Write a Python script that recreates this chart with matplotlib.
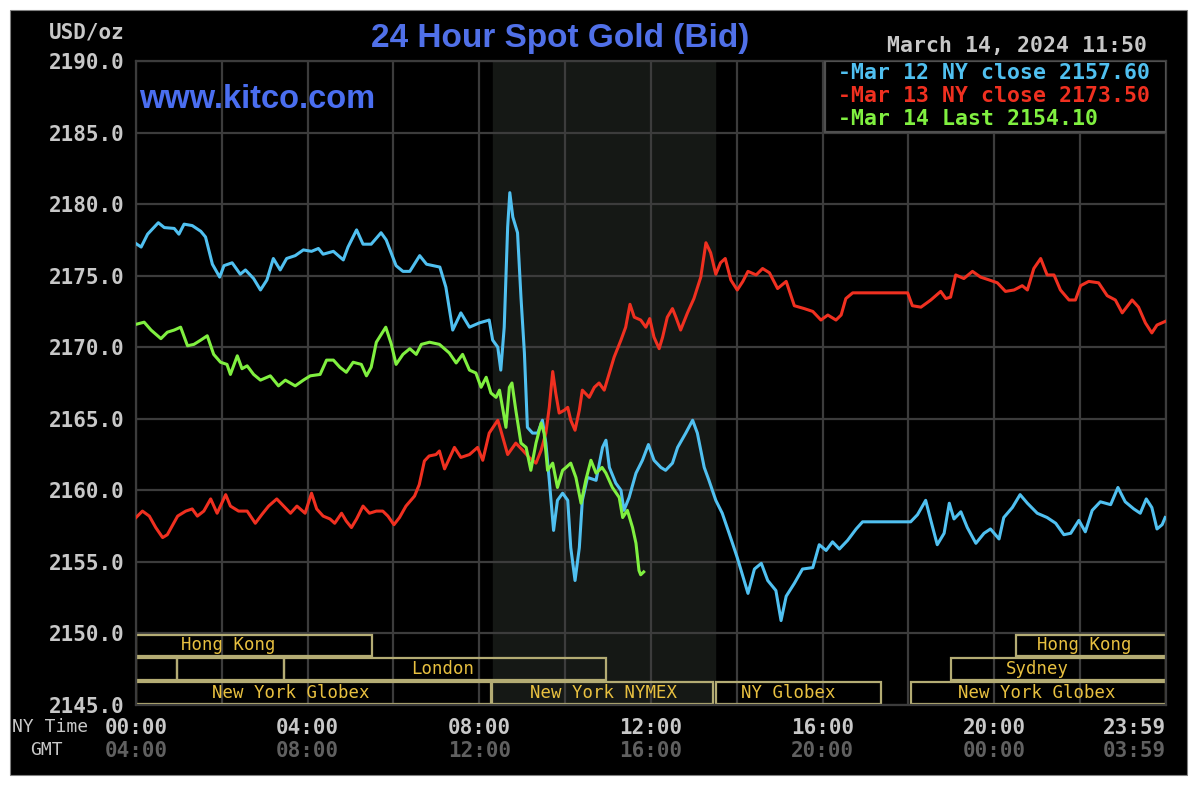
import numpy as np
import matplotlib.pyplot as plt
from matplotlib.patches import Rectangle

# время в часах по Нью-Йорку, цены в USD/oz
mar12_h = [0, 0.12, 0.27, 0.52, 0.66, 0.89, 1.0, 1.12, 1.31, 1.51, 1.62, 1.78, 1.95, 2.05, 2.24,
           2.43, 2.55, 2.74, 2.9, 3.05, 3.2, 3.36, 3.51, 3.71, 3.9, 4.09, 4.25, 4.36, 4.6, 4.83,
           4.94, 5.14, 5.29, 5.48, 5.71, 5.83, 6.06, 6.22, 6.38, 6.61, 6.77, 7.08, 7.22, 7.38,
           7.57, 7.77, 8.0, 8.23, 8.31, 8.43, 8.5, 8.58, 8.66, 8.71, 8.78, 8.89, 8.97, 9.05,
           9.12, 9.24, 9.36, 9.47, 9.55, 9.63, 9.73, 9.82, 9.94, 10.06, 10.13, 10.23, 10.33,
           10.4, 10.52, 10.72, 10.87, 10.95, 11.03, 11.18, 11.3, 11.37, 11.49, 11.65, 11.8,
           11.94, 12.07, 12.23, 12.34, 12.5, 12.62, 12.81, 12.97, 13.08, 13.24, 13.35, 13.51,
           13.66, 13.82, 14.01, 14.26, 14.41, 14.57, 14.72, 14.91, 15.03, 15.15, 15.34, 15.53,
           15.77, 15.92, 16.08, 16.23, 16.39, 16.58, 16.78, 16.93, 18.05, 18.21, 18.4, 18.52,
           18.67, 18.83, 18.95, 19.06, 19.22, 19.37, 19.57, 19.76, 19.91, 20.11, 20.22, 20.42,
           20.6, 20.77, 21.0, 21.23, 21.43, 21.62, 21.78, 21.97, 22.12, 22.28, 22.47, 22.71,
           22.88, 23.05, 23.25, 23.4, 23.54, 23.67, 23.79, 23.91, 23.98]
mar12_p = [2177.24, 2177.0, 2177.9, 2178.7, 2178.36, 2178.3, 2177.9, 2178.6, 2178.5, 2178.1,
           2177.7, 2175.8, 2174.9, 2175.7, 2175.9, 2175.1, 2175.4, 2174.8, 2174.0, 2174.7,
           2176.2, 2175.4, 2176.2, 2176.4, 2176.8, 2176.7, 2176.9, 2176.5, 2176.7, 2176.1,
           2177.0, 2178.2, 2177.2, 2177.2, 2178.0, 2177.5, 2175.7, 2175.3, 2175.3, 2176.4,
           2175.8, 2175.6, 2174.2, 2171.2, 2172.4, 2171.4, 2171.7, 2171.9, 2170.5, 2170.0,
           2168.4, 2171.4, 2178.4, 2180.8, 2179.1, 2178.0, 2173.5, 2169.6, 2164.4, 2164.0,
           2164.0, 2164.9, 2163.3, 2160.7, 2157.2, 2159.3, 2159.8, 2159.3, 2156.0, 2153.7,
           2156.0, 2159.3, 2160.9, 2160.7, 2163.0, 2163.5, 2161.6, 2160.5, 2160.0, 2158.6,
           2159.5, 2161.2, 2162.1, 2163.2, 2162.1, 2161.6, 2161.4, 2161.9, 2163.0, 2164.0,
           2164.9, 2164.0, 2161.6, 2160.7, 2159.3, 2158.4, 2157.0, 2155.3, 2152.8, 2154.5,
           2154.9, 2153.7, 2153.0, 2150.9, 2152.6, 2153.5, 2154.5, 2154.6, 2156.2, 2155.8,
           2156.4, 2155.9, 2156.5, 2157.3, 2157.8, 2157.8, 2158.3, 2159.3, 2157.9, 2156.2,
           2157.0, 2159.1, 2158.0, 2158.5, 2157.4, 2156.3, 2157.0, 2157.3, 2156.6, 2158.1,
           2158.8, 2159.7, 2159.1, 2158.4, 2158.1, 2157.7, 2156.9, 2157.0, 2157.9, 2157.1,
           2158.6, 2159.2, 2159.0, 2160.2, 2159.2, 2158.7, 2158.4, 2159.4, 2158.8, 2157.3,
           2157.6, 2158.1]

mar13_h = [0, 0.15, 0.31, 0.46, 0.62, 0.73, 0.97, 1.16, 1.31, 1.43, 1.58, 1.74, 1.89, 2.09, 2.2,
           2.39, 2.59, 2.78, 2.93, 3.09, 3.28, 3.44, 3.6, 3.75, 3.94, 4.09, 4.21, 4.36, 4.52,
           4.63, 4.79, 4.9, 5.02, 5.14, 5.29, 5.44, 5.6, 5.75, 5.87, 6.01, 6.14, 6.29, 6.49,
           6.6, 6.72, 6.83, 6.99, 7.07, 7.19, 7.42, 7.57, 7.77, 7.96, 8.08, 8.23, 8.43, 8.5,
           8.66, 8.85, 9.01, 9.16, 9.32, 9.44, 9.55, 9.63, 9.71, 9.78, 9.86, 9.98, 10.06, 10.13,
           10.23, 10.33, 10.4, 10.56, 10.68, 10.79, 10.91, 11.03, 11.14, 11.3, 11.41, 11.51,
           11.61, 11.76, 11.88, 11.97, 12.07, 12.19, 12.27, 12.38, 12.5, 12.58, 12.69, 12.85,
           13.0, 13.16, 13.28, 13.39, 13.51, 13.62, 13.73, 13.86, 14.01, 14.14, 14.26, 14.45,
           14.6, 14.76, 14.95, 15.15, 15.34, 15.57, 15.77, 15.96, 16.12, 16.31, 16.43, 16.54,
           16.7, 17.98, 18.09, 18.29, 18.52, 18.75, 18.87, 18.98, 19.1, 19.29, 19.49, 19.68,
           19.88, 20.07, 20.26, 20.46, 20.65, 20.77, 20.92, 21.08, 21.23, 21.39, 21.54, 21.74,
           21.89, 22.01, 22.2, 22.43, 22.63, 22.82, 22.98, 23.21, 23.36, 23.52, 23.67, 23.79,
           23.98]
mar13_p = [2158.1, 2158.55, 2158.2, 2157.4, 2156.7, 2156.9, 2158.2, 2158.55, 2158.7, 2158.2,
           2158.55, 2159.4, 2158.4, 2159.7, 2158.9, 2158.55, 2158.55, 2157.7, 2158.3, 2158.9,
           2159.4, 2158.9, 2158.4, 2158.9, 2158.4, 2159.8, 2158.7, 2158.2, 2158.0, 2157.7,
           2158.4, 2157.85, 2157.4, 2158.0, 2158.9, 2158.4, 2158.55, 2158.55, 2158.2, 2157.6,
           2158.1, 2158.9, 2159.6, 2160.4, 2162.05, 2162.4, 2162.5, 2162.75, 2161.5, 2163.0,
           2162.3, 2162.5, 2163.0, 2162.1, 2164.0, 2164.9, 2164.2, 2162.5, 2163.3, 2162.8,
           2162.3, 2161.9, 2162.8, 2164.0, 2165.8, 2168.3, 2166.8, 2165.4, 2165.6, 2165.8,
           2164.9, 2164.2, 2165.6, 2167.0, 2166.5, 2167.2, 2167.5, 2167.0, 2168.2, 2169.3,
           2170.5, 2171.4, 2173.0, 2172.1, 2171.9, 2171.4, 2172.0, 2170.7, 2169.9, 2170.7,
           2172.1, 2172.7, 2172.1, 2171.2, 2172.4, 2173.4, 2174.9, 2177.3, 2176.6, 2175.1,
           2175.9, 2176.2, 2174.7, 2174.0, 2174.6, 2175.3, 2175.05, 2175.5, 2175.2, 2174.1,
           2174.6, 2172.9, 2172.7, 2172.5, 2171.9, 2172.25, 2171.9, 2172.25, 2173.4, 2173.8,
           2173.8, 2172.9, 2172.8, 2173.3, 2173.9, 2173.4, 2173.5, 2175.05, 2174.8, 2175.3,
           2174.9, 2174.7, 2174.5, 2173.9, 2174.0, 2174.3, 2174.0, 2175.5, 2176.2, 2175.05,
           2175.05, 2174.0, 2173.3, 2173.3, 2174.3, 2174.6, 2174.5, 2173.6, 2173.3, 2172.4,
           2173.3, 2172.8, 2171.7, 2171.0, 2171.55, 2171.8]

mar14_h = [0, 0.19, 0.35, 0.58, 0.73, 0.89, 1.04, 1.2, 1.35, 1.51, 1.66, 1.81, 1.97, 2.12, 2.2,
           2.36, 2.47, 2.59, 2.74, 2.9, 3.13, 3.32, 3.48, 3.71, 3.9, 4.06, 4.29, 4.44, 4.6, 4.75,
           4.9, 5.06, 5.25, 5.37, 5.48, 5.6, 5.82, 5.95, 6.06, 6.22, 6.38, 6.53, 6.65, 6.84,
           7.07, 7.3, 7.46, 7.61, 7.77, 7.92, 8.04, 8.16, 8.27, 8.39, 8.47, 8.54, 8.62, 8.7,
           8.76, 8.85, 8.97, 9.09, 9.2, 9.32, 9.44, 9.51, 9.59, 9.71, 9.82, 9.94, 10.02, 10.13,
           10.25, 10.37, 10.48, 10.6, 10.72, 10.86, 10.95, 11.1, 11.26, 11.34, 11.45, 11.57,
           11.65, 11.72, 11.76, 11.83]
mar14_p = [2171.6, 2171.75, 2171.2, 2170.6, 2171.05, 2171.2, 2171.4, 2170.1, 2170.2, 2170.5,
           2170.8, 2169.5, 2168.95, 2168.8, 2168.1, 2169.4, 2168.5, 2168.7, 2168.1, 2167.7,
           2168.0, 2167.3, 2167.7, 2167.3, 2167.7, 2168.0, 2168.1, 2169.1, 2169.1, 2168.6,
           2168.25, 2168.95, 2168.8, 2168.0, 2168.6, 2170.35, 2171.4, 2170.2, 2168.8, 2169.5,
           2169.9, 2169.5, 2170.2, 2170.35, 2170.2, 2169.6, 2168.9, 2169.5, 2168.4, 2168.2,
           2167.2, 2167.9, 2166.8, 2166.5, 2167.0, 2165.8, 2164.4, 2167.2, 2167.5, 2165.6,
           2163.3, 2163.0, 2161.4, 2163.3, 2164.7, 2164.0, 2161.4, 2161.9, 2160.2, 2161.4,
           2161.6, 2161.9, 2160.9, 2159.1, 2160.7, 2162.1, 2161.2, 2161.6, 2161.2, 2160.2,
           2159.5, 2158.1, 2158.6, 2157.4, 2156.3, 2154.4, 2154.1, 2154.3]

legend_labels = ['-Mar 12 NY close 2157.60', '-Mar 13 NY close 2173.50', '-Mar 14 Last 2154.10']

# торговые сессии: ряд, начало, конец, название
sessions = [(0, 0, 5.5, 'Hong Kong'), (0, 20.5, 24, 'Hong Kong'),
            (1, 0, 0.95, ''), (1, 0.95, 3.45, ''), (1, 3.45, 10.95, 'London'),
            (1, 19.0, 24, 'Sydney'),
            (2, 0, 8.27, 'New York Globex'), (2, 8.3, 13.45, 'New York NYMEX'),
            (2, 13.52, 17.35, 'NY Globex'), (2, 18.05, 24, 'New York Globex')]
label_x = [2.15, 22.1, 0, 0, 7.15, 21.0, 3.6, 10.9, 15.2, 21.0]

ny_ticks = [0, 4, 8, 12, 16, 20, 24]
ny_labels = ['00:00', '04:00', '08:00', '12:00', '16:00', '20:00', '23:59']
gmt_labels = ['04:00', '08:00', '12:00', '16:00', '20:00', '00:00', '03:59']

W, H = 1200, 793
fig = plt.figure(figsize=(12, 7.93), dpi=100, facecolor='white')
fig.patches.append(Rectangle((10 / W, 1 - 775 / H), 1177 / W, 765 / H, transform=fig.transFigure,
                             facecolor='black', edgecolor='#808080', lw=0.8, zorder=-10))

ax = fig.add_axes([136 / W, 1 - 705 / H, 1030 / W, 644 / H])
ax.set_facecolor('black')
ax.set_xlim(0, 24)
ax.set_ylim(2145, 2190)

mono = 'DejaVu Sans Mono'
grey = '#c8c8c8'

ax.axvspan(8.33, 13.5, color='#151815', zorder=0)
ax.set_xticks(np.arange(0, 25, 2))
ax.set_xticklabels([])
ax.set_yticks(np.arange(2145, 2191, 5))
ax.set_yticklabels(['%.1f' % v for v in np.arange(2145, 2191, 5)], family=mono,
                   fontsize=15, color=grey, fontweight='bold')
ax.tick_params(length=0, pad=8)
ax.grid(True, color='#3c3c3c', lw=1.6, zorder=1)
for s in ax.spines.values():
    s.set_color('#3c3c3c')
    s.set_linewidth(1.6)

# сессии
row_h = 5 / 3
for (row, a, b, name), lx in zip(sessions, label_x):
    y0 = 2150 - (row + 1) * row_h
    ax.add_patch(Rectangle((a, y0 + 0.08), b - a, row_h - 0.16, facecolor='none',
                           edgecolor='#b4ac74', lw=1.6, zorder=2))
    if name:
        ax.text(lx, y0 + row_h / 2, name, ha='center', va='center', family=mono,
                fontsize=12.5, color='#e8c040', zorder=3)

ax.plot(mar12_h, mar12_p, color='#50c0f0', lw=2.2, zorder=4)
ax.plot(mar13_h, mar13_p, color='#f03020', lw=2.2, zorder=5)
ax.plot(mar14_h, mar14_p, color='#80f040', lw=2.2, zorder=6)

# легенда
ax.add_patch(Rectangle((16.05, 2185.05), 7.95, 4.95, facecolor='black', edgecolor='#505050',
                       lw=1.6, zorder=7))
for i, (lab, c) in enumerate(zip(legend_labels, ['#50c0f0', '#f03020', '#80f040'])):
    fig.text(838 / W, 1 - (73 + 23 * i) / H, lab, ha='left', va='center', family=mono,
             fontsize=15.5, color=c, fontweight='bold', zorder=8)

# подписи времени
for t, l1, l2 in zip(ny_ticks, ny_labels, gmt_labels):
    ha = 'right' if t == 24 else 'center'
    ax.text(t, -0.035, l1, transform=ax.get_xaxis_transform(), ha=ha, va='center',
            family=mono, fontsize=15, color=grey, fontweight='bold')
    ax.text(t, -0.071, l2, transform=ax.get_xaxis_transform(), ha=ha, va='center',
            family=mono, fontsize=15, color='#606060', fontweight='bold')
fig.text(12 / W, 1 - 727 / H, 'NY Time', ha='left', va='center', family=mono, fontsize=13,
         color=grey)
fig.text(30 / W, 1 - 750 / H, 'GMT', ha='left', va='center', family=mono, fontsize=13,
         color=grey)

fig.text(125 / W, 1 - 33 / H, 'USD/oz', ha='right', va='center', family=mono, fontsize=15,
         color=grey, fontweight='bold')
fig.text(560 / W, 1 - 38 / H, '24 Hour Spot Gold (Bid)', ha='center', va='center',
         family='Liberation Sans', fontsize=24, color='#5070e8', fontweight='bold')
fig.text(1147 / W, 1 - 46 / H, 'March 14, 2024 11:50', ha='right', va='center', family=mono,
         fontsize=15.5, color=grey, fontweight='bold')
ax.text(0.08, 2187.3, 'www.kitco.com', ha='left', va='center', family='Liberation Sans',
        fontsize=23.5, color='#4a6ef0', fontweight='bold', zorder=3)

plt.savefig('out.png', dpi=100, facecolor='white')
